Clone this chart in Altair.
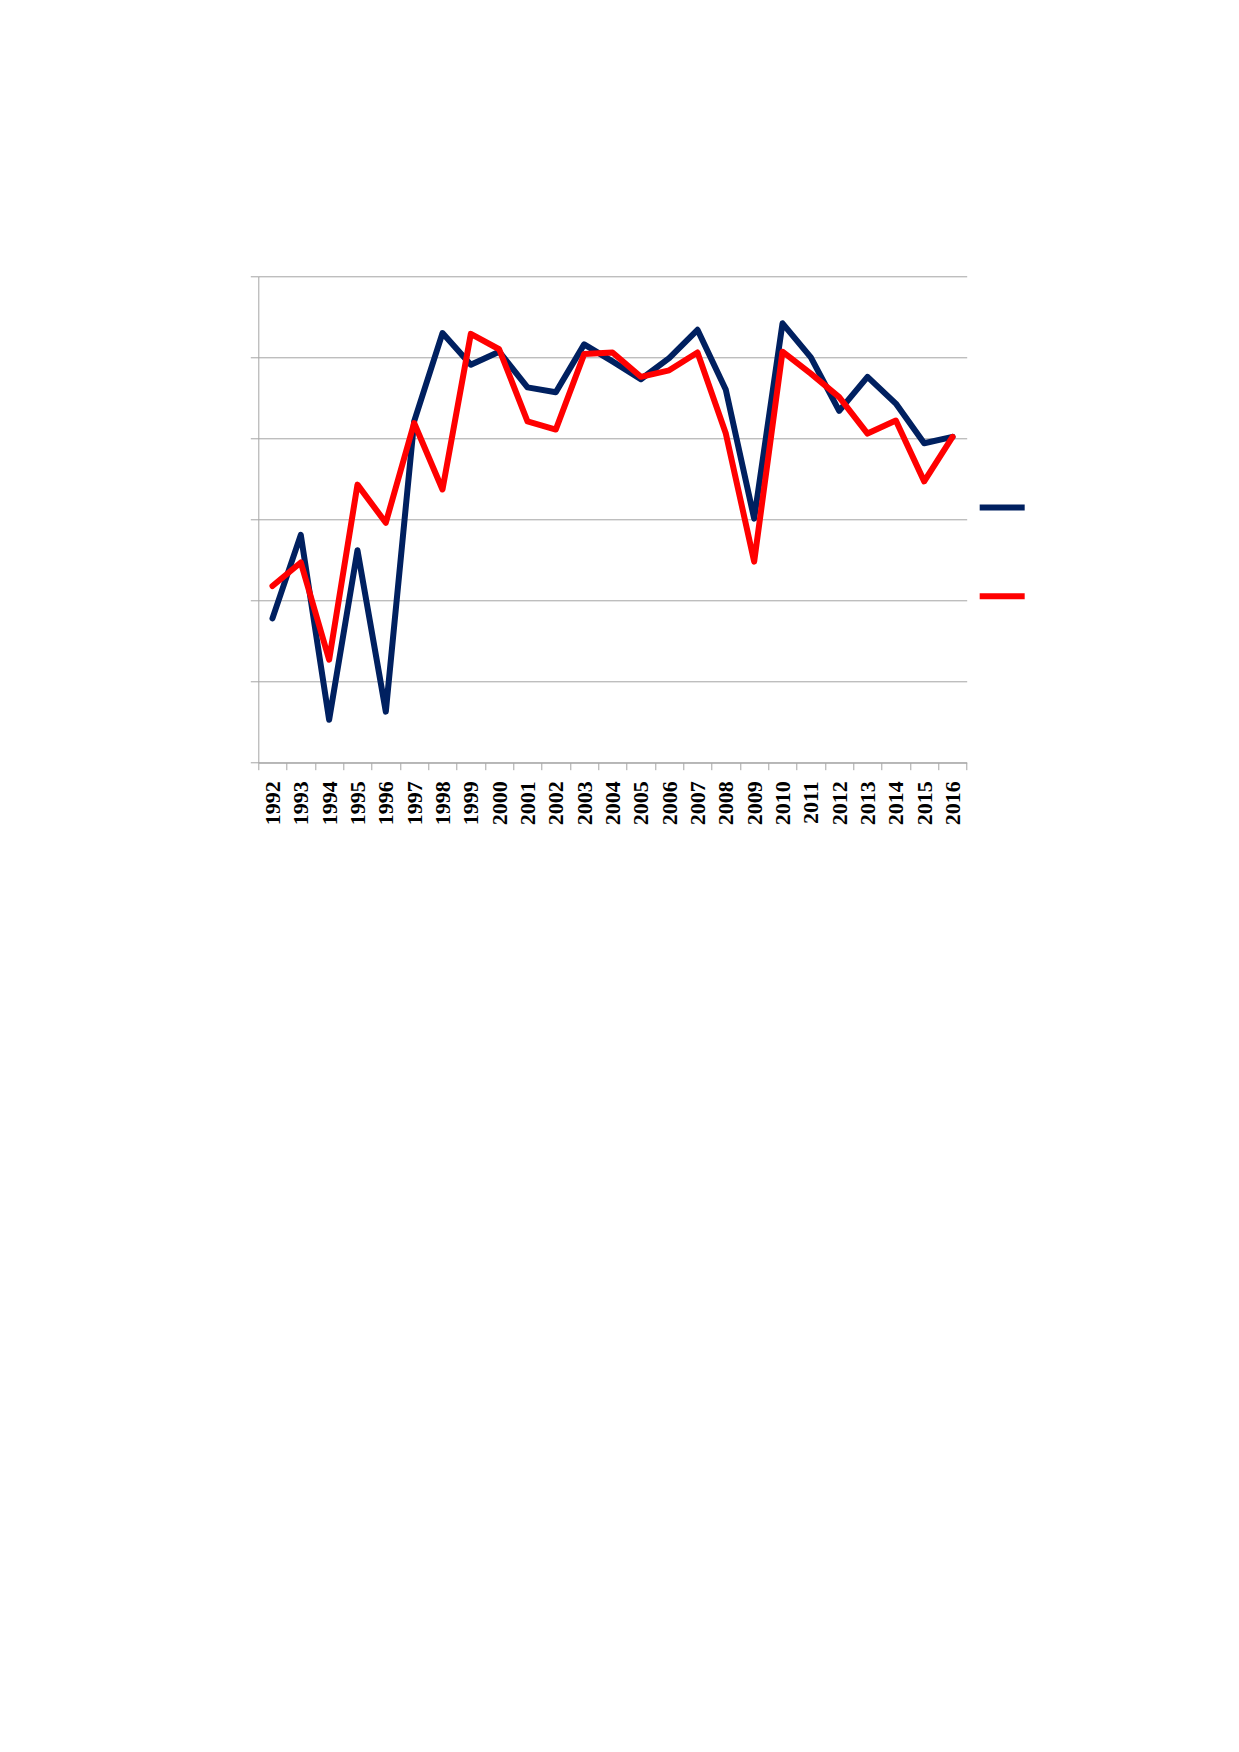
import altair as alt
import pandas as pd

years = [str(y) for y in range(1992, 2017)]
series_names = ["Series 1", "Series 2"]
series_blue = [1.78, 2.81, 0.53, 2.62, 0.63, 4.21, 5.30, 4.91, 5.07, 4.63, 4.57, 5.16, 4.95,
               4.73, 4.99, 5.34, 4.60, 3.01, 5.42, 5.00, 4.34, 4.76, 4.43, 3.94, 4.02]
series_red = [2.18, 2.47, 1.27, 3.43, 2.96, 4.19, 3.37, 5.29, 5.10, 4.21, 4.11, 5.04, 5.06,
              4.76, 4.84, 5.06, 4.06, 2.48, 5.07, 4.80, 4.51, 4.06, 4.22, 3.47, 4.02]
y_grid = [0, 1, 2, 3, 4, 5, 6]

rows = []
for i, yr in enumerate(years):
    rows.append({"year": yr, "series": series_names[0], "value": series_blue[i]})
    rows.append({"year": yr, "series": series_names[1], "value": series_red[i]})
df = pd.DataFrame(rows)

grey = "#a5a5a5"

chart = alt.Chart(df).mark_line(strokeWidth=6, strokeJoin="round", strokeCap="round").encode(
    x=alt.X(
        "year:O",
        bandPosition=0.5,
        scale=alt.Scale(type="band", paddingInner=0, paddingOuter=0),
        axis=alt.Axis(
            title=None, labelAngle=270, labelFont="Liberation Serif", labelFontWeight="bold",
            labelFontSize=22, labelColor="black", tickBand="extent", tickSize=7,
            tickColor=grey, domainColor=grey, labelPadding=11, grid=False,
        ),
    ),
    y=alt.Y(
        "value:Q",
        scale=alt.Scale(domain=[0, 6], nice=False, zero=False),
        axis=alt.Axis(
            title=None, labels=False, values=y_grid, tickSize=8, tickColor=grey,
            domainColor=grey, gridColor=grey, grid=True,
        ),
    ),
    color=alt.Color(
        "series:N",
        scale=alt.Scale(domain=series_names, range=["#002060", "#FF0000"]),
        legend=alt.Legend(
            orient="none", legendX=718.4, legendY=205.7, title=None, symbolType="stroke",
            symbolSize=2025, symbolStrokeWidth=6, rowPadding=50.7, padding=0,
            labelExpr="''",
        ),
    ),
).properties(
    width=708.4,
    height=486.4,
    autosize=alt.AutoSizeParams(type="none"),
    padding={"left": 250.3, "top": 268.3, "right": 150, "bottom": 120},
).configure_view(stroke=None)

chart.save("out.html", embed_options={"renderer": "svg", "actions": False})
